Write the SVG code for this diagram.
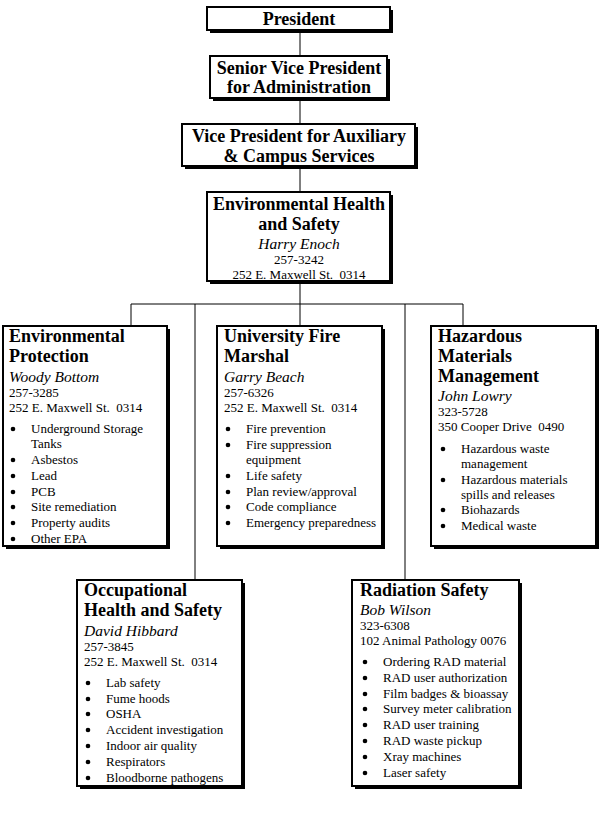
<svg xmlns="http://www.w3.org/2000/svg" width="612" height="813" viewBox="0 0 612 813">
<style>
.box{fill:#fff;stroke:#000;stroke-width:2}
.sh{fill:#000}
.ln{stroke:#000;stroke-width:1;fill:none}
text{font-family:"Liberation Serif","Times New Roman",serif;fill:#000}
.t{font-size:18px;font-weight:bold}
.c{text-anchor:middle}
.n{font-size:15.5px;font-style:italic}
.b{font-size:13px}
.dot{fill:#000}
</style>
<rect width="612" height="813" fill="#fff"/>
<g id="connectors">
<line class="ln" x1="300" y1="31" x2="300" y2="56"/>
<line class="ln" x1="300" y1="99" x2="300" y2="124"/>
<line class="ln" x1="300" y1="168" x2="300" y2="192"/>
<line class="ln" x1="300" y1="283" x2="300" y2="326"/>
<line class="ln" x1="131" y1="304" x2="463" y2="304"/>
<line class="ln" x1="131" y1="304" x2="131" y2="326"/>
<line class="ln" x1="195" y1="304" x2="195" y2="580"/>
<line class="ln" x1="405" y1="304" x2="405" y2="580"/>
<line class="ln" x1="463" y1="304" x2="463" y2="326"/>
</g>
<g id="president">
<rect class="sh" x="210" y="10" width="183" height="23"/>
<rect class="box" x="207" y="7" width="183" height="23"/>
<text class="t c" x="299" y="25">President</text>
</g>
<g id="svp">
<rect class="sh" x="213" y="59" width="177" height="42"/>
<rect class="box" x="210" y="56" width="177" height="42"/>
<text class="t c" x="299" y="74">Senior Vice President</text>
<text class="t c" x="299" y="93">for Administration</text>
</g>
<g id="vp">
<rect class="sh" x="185" y="127" width="233" height="42"/>
<rect class="box" x="182" y="124" width="233" height="42"/>
<text class="t c" x="299" y="142">Vice President for Auxiliary</text>
<text class="t c" x="299" y="162">&amp; Campus Services</text>
</g>
<g id="ehs">
<rect class="sh" x="210" y="195" width="183" height="89"/>
<rect class="box" x="207" y="192" width="183" height="89"/>
<text class="t c" x="299" y="210">Environmental Health</text>
<text class="t c" x="299" y="230">and Safety</text>
<text class="n c" x="299" y="249">Harry Enoch</text>
<text class="b c" x="299" y="264">257-3242</text>
<text class="b c" x="299" y="279" xml:space="preserve">252 E. Maxwell St.  0314</text>
</g>
<g id="env-protection">
<rect class="sh" x="6" y="329" width="164" height="220"/>
<rect class="box" x="3" y="326" width="164" height="220"/>
<text class="t" x="9" y="342">Environmental</text>
<text class="t" x="9" y="362">Protection</text>
<text class="n" x="9" y="382">Woody Bottom</text>
<text class="b" x="9" y="397">257-3285</text>
<text class="b" x="9" y="412" xml:space="preserve">252 E. Maxwell St.  0314</text>
<circle class="dot" cx="13" cy="429" r="2.3"/><text class="b" x="31" y="433">Underground Storage</text>
<text class="b" x="31" y="448">Tanks</text>
<circle class="dot" cx="13" cy="460" r="2.3"/><text class="b" x="31" y="464">Asbestos</text>
<circle class="dot" cx="13" cy="476" r="2.3"/><text class="b" x="31" y="480">Lead</text>
<circle class="dot" cx="13" cy="492" r="2.3"/><text class="b" x="31" y="496">PCB</text>
<circle class="dot" cx="13" cy="507" r="2.3"/><text class="b" x="31" y="511">Site remediation</text>
<circle class="dot" cx="13" cy="523" r="2.3"/><text class="b" x="31" y="527">Property audits</text>
<circle class="dot" cx="13" cy="539" r="2.3"/><text class="b" x="31" y="543">Other EPA</text>
</g>
<g id="fire-marshal">
<rect class="sh" x="220" y="329" width="165" height="220"/>
<rect class="box" x="217" y="326" width="165" height="220"/>
<text class="t" x="224" y="342">University Fire</text>
<text class="t" x="224" y="362">Marshal</text>
<text class="n" x="224" y="382">Garry Beach</text>
<text class="b" x="224" y="397">257-6326</text>
<text class="b" x="224" y="412" xml:space="preserve">252 E. Maxwell St.  0314</text>
<circle class="dot" cx="228" cy="429" r="2.3"/><text class="b" x="246" y="433">Fire prevention</text>
<circle class="dot" cx="228" cy="445" r="2.3"/><text class="b" x="246" y="449">Fire suppression</text>
<text class="b" x="246" y="464">equipment</text>
<circle class="dot" cx="228" cy="476" r="2.3"/><text class="b" x="246" y="480">Life safety</text>
<circle class="dot" cx="228" cy="492" r="2.3"/><text class="b" x="246" y="496">Plan review/approval</text>
<circle class="dot" cx="228" cy="507" r="2.3"/><text class="b" x="246" y="511">Code compliance</text>
<circle class="dot" cx="228" cy="523" r="2.3"/><text class="b" x="246" y="527">Emergency preparedness</text>
</g>
<g id="hazmat">
<rect class="sh" x="434" y="329" width="165" height="220"/>
<rect class="box" x="431" y="326" width="165" height="220"/>
<text class="t" x="438" y="342">Hazardous</text>
<text class="t" x="438" y="362">Materials</text>
<text class="t" x="438" y="382">Management</text>
<text class="n" x="438" y="401">John Lowry</text>
<text class="b" x="438" y="416">323-5728</text>
<text class="b" x="438" y="431" xml:space="preserve">350 Cooper Drive  0490</text>
<circle class="dot" cx="443" cy="449" r="2.3"/><text class="b" x="461" y="453">Hazardous waste</text>
<text class="b" x="461" y="468">management</text>
<circle class="dot" cx="443" cy="480" r="2.3"/><text class="b" x="461" y="484">Hazardous materials</text>
<text class="b" x="461" y="499">spills and releases</text>
<circle class="dot" cx="443" cy="510" r="2.3"/><text class="b" x="461" y="514">Biohazards</text>
<circle class="dot" cx="443" cy="526" r="2.3"/><text class="b" x="461" y="530">Medical waste</text>
</g>
<g id="occupational">
<rect class="sh" x="80" y="583" width="165" height="206"/>
<rect class="box" x="77" y="580" width="165" height="206"/>
<text class="t" x="84" y="596">Occupational</text>
<text class="t" x="84" y="616">Health and Safety</text>
<text class="n" x="84" y="636">David Hibbard</text>
<text class="b" x="84" y="651">257-3845</text>
<text class="b" x="84" y="666" xml:space="preserve">252 E. Maxwell St.  0314</text>
<circle class="dot" cx="88" cy="683" r="2.3"/><text class="b" x="106" y="687">Lab safety</text>
<circle class="dot" cx="88" cy="699" r="2.3"/><text class="b" x="106" y="703">Fume hoods</text>
<circle class="dot" cx="88" cy="714" r="2.3"/><text class="b" x="106" y="718">OSHA</text>
<circle class="dot" cx="88" cy="730" r="2.3"/><text class="b" x="106" y="734">Accident investigation</text>
<circle class="dot" cx="88" cy="746" r="2.3"/><text class="b" x="106" y="750">Indoor air quality</text>
<circle class="dot" cx="88" cy="762" r="2.3"/><text class="b" x="106" y="766">Respirators</text>
<circle class="dot" cx="88" cy="778" r="2.3"/><text class="b" x="106" y="782">Bloodborne pathogens</text>
</g>
<g id="radiation">
<rect class="sh" x="355" y="583" width="167" height="206"/>
<rect class="box" x="352" y="580" width="167" height="206"/>
<text class="t" x="360" y="596">Radiation Safety</text>
<text class="n" x="360" y="615">Bob Wilson</text>
<text class="b" x="360" y="630">323-6308</text>
<text class="b" x="360" y="645">102 Animal Pathology 0076</text>
<circle class="dot" cx="365" cy="662" r="2.3"/><text class="b" x="383" y="666">Ordering RAD material</text>
<circle class="dot" cx="365" cy="678" r="2.3"/><text class="b" x="383" y="682">RAD user authorization</text>
<circle class="dot" cx="365" cy="694" r="2.3"/><text class="b" x="383" y="698">Film badges &amp; bioassay</text>
<circle class="dot" cx="365" cy="709" r="2.3"/><text class="b" x="383" y="713">Survey meter calibration</text>
<circle class="dot" cx="365" cy="725" r="2.3"/><text class="b" x="383" y="729">RAD user training</text>
<circle class="dot" cx="365" cy="741" r="2.3"/><text class="b" x="383" y="745">RAD waste pickup</text>
<circle class="dot" cx="365" cy="757" r="2.3"/><text class="b" x="383" y="761">Xray machines</text>
<circle class="dot" cx="365" cy="773" r="2.3"/><text class="b" x="383" y="777">Laser safety</text>
</g>
</svg>
